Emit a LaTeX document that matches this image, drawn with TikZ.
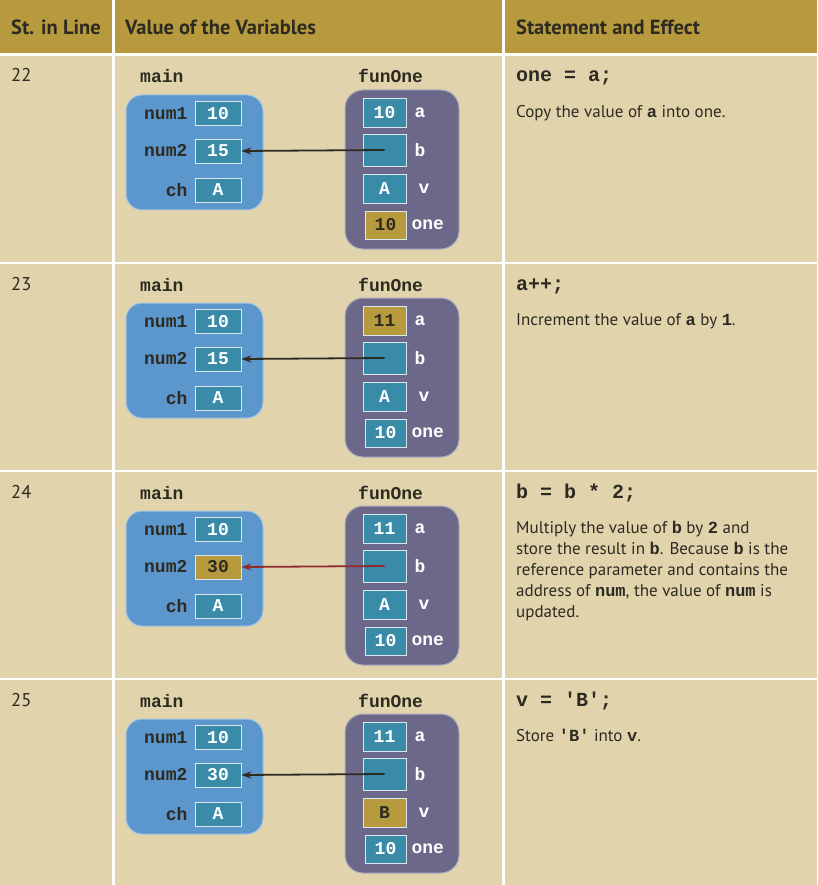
\documentclass[tikz,border=0pt]{standalone}
\usepackage{fontspec}
\setmainfont{PT Sans}
\setmonofont{Liberation Mono}
\usetikzlibrary{positioning}
\usetikzlibrary{arrows.meta}

\definecolor{headgold}{HTML}{B89A3E}
\definecolor{paper}{HTML}{E1D4AC}
\definecolor{mainblue}{HTML}{5B96CD}
\definecolor{funpurple}{HTML}{6C688A}
\definecolor{cellteal}{HTML}{3A8BA8}
\definecolor{ink}{HTML}{2D2A22}
\definecolor{ptrred}{HTML}{8E2B2B}

\newcommand{\cd}[1]{{\ttfamily\bfseries #1}}

\tikzset{
  hd/.style={anchor=base west, inner sep=0pt, text=ink, font=\fontsize{20.5}{22}\selectfont\bfseries},
  code/.style={anchor=base west, inner sep=0pt, text=ink, font=\fontsize{20}{22}\selectfont\ttfamily\bfseries},
  body/.style={anchor=north west, inner sep=0pt, text=ink, align=left, font=\fontsize{17}{21}\selectfont},
  var/.style={inner sep=0pt, text=ink, font=\fontsize{18}{18}\selectfont\ttfamily\bfseries},
  fvar/.style={var, text=white},
  mainframe/.style={draw=white!45!mainblue, line width=1pt, fill=mainblue, rounded corners=16pt},
  funframe/.style={draw=white!45!funpurple, line width=1pt, fill=funpurple, rounded corners=18pt},
  cell/.style={draw=white!80!cellteal, line width=0.8pt, fill=cellteal, text=white,
    minimum width=46pt, minimum height=24pt, inner sep=0pt, font=\fontsize{18}{18}\selectfont\ttfamily\bfseries},
  fcell/.style={minimum width=43pt, minimum height=29pt},
  hicell/.style={fill=headgold, text=ink},
  n2cell/.style={}, acell/.style={}, vcell/.style={}, onecell/.style={},
  ptr/.style={-{Stealth[length=10pt,width=7pt]}, line width=1.8pt, draw=ink},
}

% one line of the table: #1 line, #2 num2, #3 a, #4 v, #5 statement, #6 effect
\newcommand{\memrow}[6]{%
  % cells of the row
  \fill[paper] (0,56) rectangle (112,262);
  \fill[paper] (115,56) rectangle (502,262);
  \fill[paper] (505,56) rectangle (817,262);
  \node[hd, font=\fontsize{18.5}{20}\selectfont] (r#1no) at (11,82) {#1};
  % main
  \node[var, anchor=base west] (r#1main) at (140,83) {main};
  \node[mainframe, minimum width=137pt, minimum height=115pt] (r#1mf) at (194.5,152.5) {};
  \node[cell] (r#1n1) at (218,113.5) {10};
  \node[cell, n2cell] (r#1n2) at (218,151) {#2};
  \node[cell] (r#1ch) at (218,190) {A};
  \node[var, left=7pt of r#1n1] (r#1ln1) {num1};
  \node[var, left=7pt of r#1n2] (r#1ln2) {num2};
  \node[var, left=7pt of r#1ch] (r#1lch) {ch};
  % funOne
  \node[var, anchor=base west] (r#1fun) at (358,83) {funOne};
  \node[funframe, minimum width=114pt, minimum height=159pt] (r#1ff) at (402,169.5) {};
  \node[cell, fcell, acell] (r#1a) at (384.5,112.5) {#3};
  \node[cell, fcell, minimum height=32pt] (r#1b) at (384.5,150) {};
  \node[cell, fcell, vcell] (r#1v) at (384.5,188.5) {#4};
  \node[cell, fcell, onecell, minimum width=41pt, minimum height=28pt] (r#1one) at (385.5,225) {10};
  \node[fvar, right=8pt of r#1a] (r#1la) {a};
  \node[fvar, right=8pt of r#1b] (r#1lb) {b};
  \node[fvar, right=12pt of r#1v] (r#1lv) {v};
  \node[fvar, right=5pt of r#1one] (r#1lone) {one};
  % reference
  \draw[ptr] (r#1b.center) -- (r#1n2.east);
  % statement and effect
  \node[code] (r#1st) at (516,82) {#5};
  \node[body] (r#1fx) at (516,105) {#6};
}

\begin{document}
\begin{tikzpicture}[x=1pt, y=-1pt]
  \useasboundingbox (0,0) rectangle (817,885);
  \fill[white] (0,0) rectangle (817,885);

  % Header
  \fill[headgold] (0,0) rectangle (112,53);
  \fill[headgold] (115,0) rectangle (502,53);
  \fill[headgold] (505,0) rectangle (817,53);
  \node[hd] (hline) at (11,35) {St. in Line};
  \node[hd] (hvars) at (125,35) {Value of the Variables};
  \node[hd] (hfx) at (516,35) {Statement and Effect};

  % Rows
  \begin{scope}[onecell/.style=hicell]
    \memrow{22}{15}{10}{A}{one = a;}{Copy the value of \cd{a} into one.}
  \end{scope}
  \begin{scope}[yshift=-208pt, acell/.style=hicell]
    \memrow{23}{15}{11}{A}{a++;}{Increment the value of \cd{a} by \cd{1}.}
  \end{scope}
  \begin{scope}[yshift=-416pt, n2cell/.style=hicell, ptr/.append style={draw=ptrred}]
    \memrow{24}{30}{11}{A}{b = b * 2;}{Multiply the value of \cd{b} by \cd{2} and\\
      store the result in \cd{b}. Because \cd{b} is the\\
      reference parameter and contains the\\
      address of \cd{num}, the value of \cd{num} is\\
      updated.}
  \end{scope}
  \begin{scope}[yshift=-624pt, vcell/.style=hicell]
    \memrow{25}{30}{11}{B}{v = 'B';}{Store \cd{'B'} into \cd{v}.}
  \end{scope}
\end{tikzpicture}
\end{document}
